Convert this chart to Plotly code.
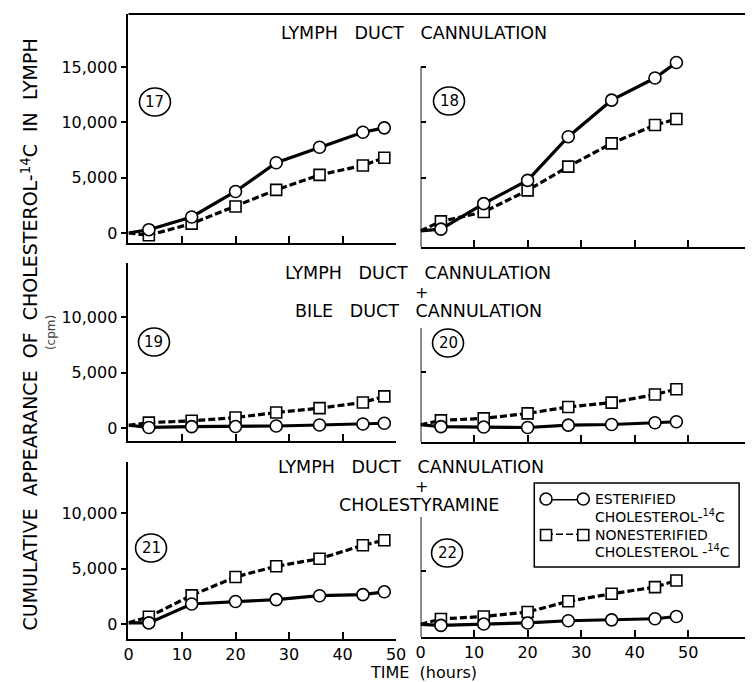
import plotly.graph_objects as go

# ---------------- data ----------------
hours = [0, 3.8, 11.8, 20, 27.6, 35.7, 43.8, 47.8]

est_17 = [0, 300, 1450, 3750, 6350, 7750, 9100, 9500]
non_17 = [0, -200, 850, 2400, 3900, 5250, 6100, 6800]
est_18 = [200, 350, 2650, 4750, 8700, 12000, 14000, 15400]
non_18 = [200, 1050, 1900, 3850, 6000, 8100, 9750, 10300]
est_19 = [250, 50, 120, 130, 180, 270, 360, 430]
non_19 = [250, 480, 650, 940, 1390, 1790, 2300, 2850]
est_20 = [250, 80, 40, 0, 210, 270, 430, 520]
non_20 = [250, 640, 820, 1270, 1850, 2240, 2970, 3450]
est_21 = [100, 100, 1800, 2030, 2200, 2550, 2650, 2900]
non_21 = [100, 650, 2580, 4240, 5200, 5880, 7090, 7550]
est_22 = [200, 100, 220, 320, 520, 600, 700, 900]
non_22 = [200, 680, 900, 1300, 2270, 2950, 3550, 4150]

panel_labels = ["17", "18", "19", "20", "21", "22"]
row_titles = [
    ["LYMPH\u00a0\u00a0\u00a0DUCT\u00a0\u00a0\u00a0CANNULATION"],
    ["LYMPH\u00a0\u00a0\u00a0DUCT\u00a0\u00a0\u00a0CANNULATION", "+",
     "BILE\u00a0\u00a0\u00a0DUCT\u00a0\u00a0\u00a0CANNULATION"],
    ["LYMPH\u00a0\u00a0\u00a0DUCT\u00a0\u00a0\u00a0CANNULATION", "+", "CHOLESTYRAMINE"],
]
ytick_vals = [0, 5000, 10000, 15000]
xtick_vals = [0, 10, 20, 30, 40, 50]
legend_lines = ["ESTERIFIED", "CHOLESTEROL-<sup>14</sup>C",
                "NONESTERIFIED", "CHOLESTEROL\u00a0-<sup>14</sup>C"]
y_title = ("CUMULATIVE\u00a0\u00a0APPEARANCE\u00a0\u00a0OF\u00a0\u00a0CHOLESTEROL-<sup>14</sup>C"
           "\u00a0\u00a0IN\u00a0\u00a0LYMPH")

series = [(est_17, non_17), (est_18, non_18), (est_19, non_19),
          (est_20, non_20), (est_21, non_21), (est_22, non_22)]

# ---------------- layout geometry (pixels) ----------------
W, H = 755, 682
FONT = "DejaVu Sans"


def pxx(x):
    return x / W


def pyy(y):
    return 1 - y / H


PX_PER_HOUR = 5.46
LEFT = (126, 399)
RIGHT = (424, 755)
# (top, bottom, zero, px per 1000)
rows_geom = [
    [(14, 243, 233, 11.07), (14, 247, 233, 11.07)],
    [(263, 441, 428, 11.1), (263, 442, 427.5, 11.1)],
    [(462, 639, 624, 11.1), (462, 637, 626.5, 11.1)],
]
right_line_top = [15000, 8960, 9860]
right_ytick = [[5000, 10000, 15000], [5000], [5000]]
circle_centers = [(153, 102), (453, 101), (152, 342), (452, 343), (149, 548), (451, 553)]
title_pos = [
    [(417, 33)],
    [(421, 273), (425, 292), (422, 311)],
    [(414, 467), (425, 486), (422, 505)],
]

fig = go.Figure()
layout = {}
shapes = []
annotations = []

black = "black"


def ann(text, x, y, size, xanchor="center", angle=0, color=black, pad=1):
    return dict(text=text, x=pxx(x), y=pyy(y), xref="paper", yref="paper",
                xanchor=xanchor, yanchor="middle", textangle=angle, showarrow=False,
                borderpad=pad, font=dict(family=FONT, size=size, color=color))


for i in range(6):
    r, c = divmod(i, 2)
    n = i + 1
    xa = "xaxis" if n == 1 else f"xaxis{n}"
    ya = "yaxis" if n == 1 else f"yaxis{n}"
    xr = "x" if n == 1 else f"x{n}"
    yr = "y" if n == 1 else f"y{n}"
    top, bot, zero, k = rows_geom[r][c]
    xdom = LEFT if c == 0 else RIGHT
    xmax = 50 if c == 0 else (RIGHT[1] - RIGHT[0]) / PX_PER_HOUR
    yrng = [-(bot - zero) / k * 1000, (zero - top) / k * 1000]

    layout[xa] = dict(
        domain=[pxx(xdom[0]), pxx(xdom[1])], range=[0, xmax], anchor=yr,
        showgrid=False, zeroline=False, showline=True, linecolor=black, linewidth=1.8,
        ticks="inside", ticklen=7, tickwidth=1.5, tickcolor=black,
        tickvals=xtick_vals, showticklabels=(r == 2),
        tickfont=dict(family=FONT, size=16, color=black),
    )
    if c == 0:
        yv = [v for v in ytick_vals if v <= yrng[1]]
        layout[ya] = dict(
            domain=[pyy(bot), pyy(top)], range=yrng, anchor=xr,
            showgrid=False, zeroline=False, showline=True, linecolor=black, linewidth=1.8,
            ticks="outside", ticklen=6, tickwidth=1.5, tickcolor=black,
            tickvals=yv, tickformat=",d", showticklabels=True,
            tickfont=dict(family=FONT, size=16, color=black),
        )
    else:
        layout[ya] = dict(
            domain=[pyy(bot), pyy(top)], range=yrng, anchor=xr,
            showgrid=False, zeroline=False, showline=False,
            ticks="inside", ticklen=5, tickwidth=1.5, tickcolor=black,
            tickvals=right_ytick[r], showticklabels=False,
        )
        shapes.append(dict(type="line", xref=xr, yref=yr, x0=0, x1=0,
                           y0=yrng[0], y1=right_line_top[r],
                           line=dict(color=black, width=1.8)))

    est, non = series[i]
    sizes = [0] + [11] * (len(hours) - 1)
    fig.add_trace(go.Scatter(
        x=hours, y=non, xaxis=xr, yaxis=yr, mode="lines+markers", showlegend=False,
        line=dict(color=black, width=3.2, dash="7px,3px"),
        marker=dict(symbol="square", size=sizes, color="white", opacity=1,
                    line=dict(color=black, width=1.6)),
        cliponaxis=False,
    ))
    fig.add_trace(go.Scatter(
        x=hours, y=est, xaxis=xr, yaxis=yr, mode="lines+markers", showlegend=False,
        line=dict(color=black, width=3.2),
        marker=dict(symbol="circle", size=[s + 1 if s else 0 for s in sizes], color="white",
                    opacity=1, line=dict(color=black, width=1.6)),
        cliponaxis=False,
    ))

    # circled panel number
    cx, cy = circle_centers[i]
    shapes.append(dict(type="circle", xref="paper", yref="paper",
                       xsizemode="pixel", ysizemode="pixel",
                       xanchor=pxx(cx), yanchor=pyy(cy),
                       x0=-15.5, x1=15.5, y0=-14, y1=14,
                       line=dict(color=black, width=1.6)))
    annotations.append(ann(panel_labels[i], cx, cy, 15))

# top border of first row
shapes.append(dict(type="line", xref="paper", yref="paper", x0=pxx(126), x1=1,
                   y0=pyy(14), y1=pyy(14), line=dict(color=black, width=1.8)))

# row titles
for r in range(3):
    for t, (tx, ty) in zip(row_titles[r], title_pos[r]):
        annotations.append(ann(t, tx, ty, 16 if t == "+" else 17.5, pad=0))

# axis titles
annotations.append(ann(y_title, 25, 335, 19, angle=-90))
annotations.append(ann("(cpm)", 47, 333, 12, angle=-90, color="#444"))
annotations.append(ann("TIME\u00a0\u00a0(hours)", 427, 672.5, 16, pad=0))

# legend box
shapes.append(dict(type="rect", xref="paper", yref="paper",
                   x0=pxx(540), x1=pxx(749), y0=pyy(567), y1=pyy(483),
                   line=dict(color=black, width=1.5), fillcolor="white", layer="below"))
layout["xaxis7"] = dict(domain=[pxx(552), pxx(590)], range=[0, 1], visible=False,
                        anchor="y7", fixedrange=True)
layout["yaxis7"] = dict(domain=[pyy(535), pyy(499)], range=[0, 1], visible=False,
                        anchor="x7", fixedrange=True)
fig.add_trace(go.Scatter(
    x=[0, 1], y=[0, 0], xaxis="x7", yaxis="y7", mode="lines+markers", showlegend=False,
    line=dict(color=black, width=3.2, dash="7px,3px"),
    marker=dict(symbol="square", size=11, color="white", opacity=1,
                line=dict(color=black, width=1.6)),
    cliponaxis=False))
fig.add_trace(go.Scatter(
    x=[0, 1], y=[1, 1], xaxis="x7", yaxis="y7", mode="lines+markers", showlegend=False,
    line=dict(color=black, width=3.2),
    marker=dict(symbol="circle", size=12, color="white", opacity=1,
                line=dict(color=black, width=1.6)),
    cliponaxis=False))
for t, ly in zip(legend_lines, [499, 516, 535, 551]):
    annotations.append(ann(t, 600, ly, 14, xanchor="left"))

fig.update_layout(
    width=W, height=H, margin=dict(l=0, r=0, t=0, b=0), autosize=False,
    paper_bgcolor="white", plot_bgcolor="white",
    shapes=shapes, annotations=annotations, **layout,
)

fig.write_html("out.html")
